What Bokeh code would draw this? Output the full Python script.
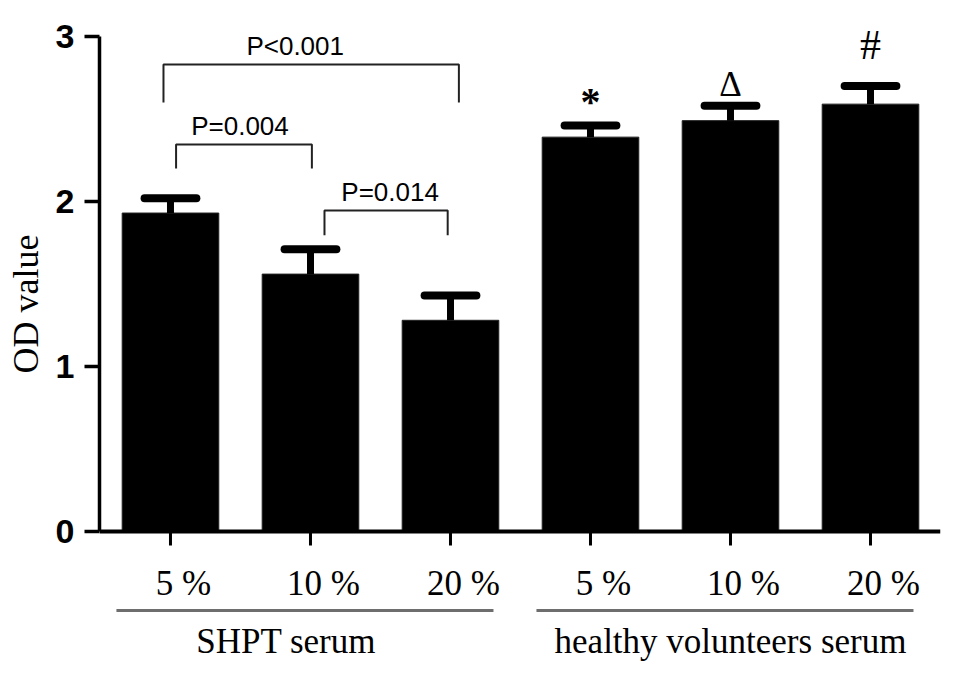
from bokeh.plotting import figure
from bokeh.models import LinearAxis, FixedTicker, Range1d, Title, ColumnDataSource
from bokeh.core.properties import value
from bokeh.embed import file_html
from bokeh.resources import INLINE

# ---- data ----
conc_labels = ["5 %", "10 %", "20 %", "5 %", "10 %", "20 %"]
group_names = ["SHPT  serum", "healthy volunteers serum"]
group_members = [[0, 1, 2], [3, 4, 5]]
od_mean = [1.93, 1.56, 1.28, 2.39, 2.49, 2.59]
od_err = [0.09, 0.15, 0.15, 0.07, 0.09, 0.11]
sig_marks = ["", "", "", "*", "\u0394", "#"]
y_ticks = [0, 1, 2, 3]

# pairwise comparisons (bar index pairs) and their p-value texts
p_texts = ["P<0.001", "P=0.004", "P=0.014"]
p_pairs = [(0, 2), (0, 1), (1, 2)]

# ---- styling / placement constants ----
X0, X1 = -0.507, 5.5
Y0, Y1 = -0.806, 3.109
mark_styles = ["bold", "normal", "normal"]
mark_sizes = ["40px", "35px", "42px"]
mark_dy = [-2, -2, 14]          # pixel nudges of the significance marks
bracket_ends = [(-0.05, 0.06), (0.04, 0.01), (0.10, -0.02)]
bracket_top = [2.83, 2.345, 1.945]
bracket_leg = [0.23, 0.145, 0.15]
p_text_dx = [-16, -4, 4]

p = figure(width=950, height=666, x_range=Range1d(X0, X1), y_range=Range1d(Y0, Y1),
           x_axis_location=None, y_axis_location=None,
           toolbar_location=None, output_backend="svg",
           min_border_left=98, min_border_right=10, min_border_top=18, min_border_bottom=2)
p.outline_line_color = None
p.xgrid.visible = False
p.ygrid.visible = False
p.background_fill_color = "white"

# y axis
yax = LinearAxis(bounds=(0, 3), ticker=FixedTicker(ticks=y_ticks))
yax.axis_line_width = 3.5
yax.axis_line_color = "black"
yax.major_tick_line_width = 3.5
yax.major_tick_line_color = "black"
yax.major_tick_out = 15
yax.major_tick_in = 0
yax.minor_tick_line_color = None
yax.major_label_text_font = "Liberation Sans"
yax.major_label_text_font_style = "bold"
yax.major_label_text_font_size = "34px"
yax.major_label_text_color = "black"
yax.major_label_standoff = 10
p.add_layout(yax, "left")

ttl = Title(text="OD value", align="left", offset=291, standoff=10, vertical_align="top",
            text_font="Liberation Serif", text_font_size="36px",
            text_font_style="normal", text_color="black")
p.add_layout(ttl, "left")

xs = list(range(len(od_mean)))
hi = [m + e for m, e in zip(od_mean, od_err)]
src = ColumnDataSource(dict(
    x=xs, mean=od_mean, hi=hi,
    cap_l=[x - 0.185 for x in xs], cap_r=[x + 0.185 for x in xs],
    lab=conc_labels,
))

# bars
p.vbar(x="x", top="mean", bottom=0, width=0.69, source=src,
       fill_color="black", line_color="#222222", line_width=1)
# error bars (upper only)
p.segment(x0="x", y0="mean", x1="x", y1="hi", source=src, line_color="black", line_width=7)
p.segment(x0="cap_l", y0="hi", x1="cap_r", y1="hi", source=src,
          line_color="black", line_width=8, line_cap="round")

# significance marks above healthy-serum bars
k = 0
for i, m in enumerate(sig_marks):
    if not m:
        continue
    p.text(x=[xs[i]], y=[hi[i]], text=[m], text_align="center", text_baseline="bottom",
           y_offset=-4 - mark_dy[k], text_font=value("Liberation Serif"), text_font_size=mark_sizes[k],
           text_font_style=mark_styles[k], text_color="black")
    k += 1

# x axis (drawn at y = 0)
p.segment(x0=[X0], y0=[0], x1=[X1], y1=[0], line_color="black", line_width=4)
p.segment(x0=xs, y0=[0] * len(xs), x1=xs, y1=[-0.085] * len(xs),
          line_color="black", line_width=3)
p.text(x="x", y=-0.315, text="lab", source=src, text_align="center", text_baseline="middle",
       x_offset=13, text_font=value("Liberation Serif"), text_font_size="35px", text_color="black")

# group lines and labels
for gi, (name, mem) in enumerate(zip(group_names, group_members)):
    left, right = mem[0] - 0.386, mem[-1] + 0.307
    p.segment(x0=[left], y0=[-0.479], x1=[right], y1=[-0.479], line_color="#6e6e6e", line_width=3)
    cx = (mem[0] + mem[-1]) / 2.0
    p.text(x=[cx], y=[-0.667], text=[name], text_align="center", text_baseline="middle",
           x_offset=-20 if gi == 0 else 0,
           text_font=value("Liberation Serif"), text_font_size="35px", text_color="black")

# p-value brackets
for txt, (a, b), (ea, eb), top, leg, dx in zip(p_texts, p_pairs, bracket_ends,
                                               bracket_top, bracket_leg, p_text_dx):
    xa, xb = a + ea, b + eb
    p.line(x=[xa, xa, xb, xb], y=[top - leg, top, top, top - leg], line_color="#222222", line_width=2)
    p.text(x=[(xa + xb) / 2.0], y=[top], text=[txt], text_align="center", text_baseline="bottom",
           x_offset=dx, y_offset=-4, text_font=value("Liberation Sans"), text_font_size="26px",
           text_color="black")

open("out.html", "w").write(file_html(p, INLINE))
